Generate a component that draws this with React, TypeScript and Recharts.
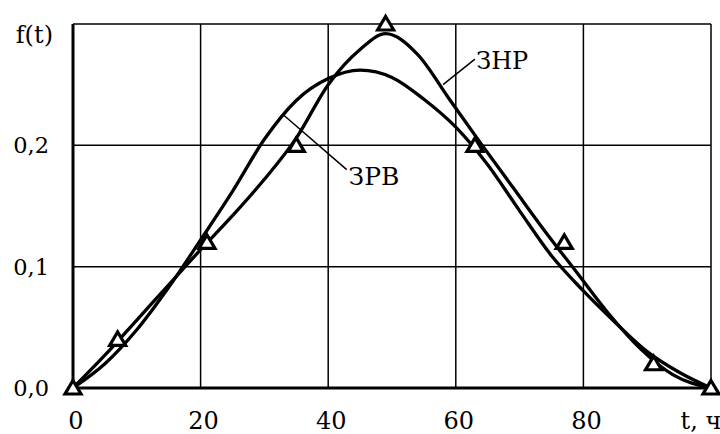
import React from 'react';
import {
  ComposedChart,
  Line,
  Scatter,
  XAxis,
  YAxis,
  CartesianGrid,
  ReferenceLine,
  ReferenceDot,
} from 'recharts';

// ЗНР curve
const znrT = [0, 5, 10, 15, 20, 25, 30, 35, 40, 45, 49, 54, 59, 64, 69, 74, 79, 84, 89, 94, 100];
const znrF = [0, 0.027, 0.056, 0.085, 0.114, 0.142, 0.172, 0.206, 0.25, 0.279, 0.292, 0.275, 0.238, 0.201, 0.165, 0.129, 0.095, 0.061, 0.032, 0.011, 0];

// ЗРВ curve
const zrvT = [0, 5, 10, 15, 20, 25, 30, 35, 40, 45, 50, 55, 60, 65, 70, 75, 80, 85, 90, 95, 100];
const zrvF = [0, 0.02, 0.048, 0.083, 0.122, 0.162, 0.205, 0.237, 0.255, 0.262, 0.256, 0.238, 0.215, 0.184, 0.146, 0.109, 0.08, 0.054, 0.03, 0.013, 0];

// observed (histogram) points
const obsT = [0, 7, 21, 35, 49, 63, 77, 91, 100];
const obsF = [0, 0.04, 0.12, 0.2, 0.3, 0.2, 0.12, 0.02, 0];

const xTicks = [0, 20, 40, 60, 80, 100];
const yTicks = [0, 0.1, 0.2, 0.3];
const xAxisName = 't, ч';
const yAxisName = 'f(t)';

const znrData = znrT.map((t, i) => ({ t, f: znrF[i] }));
const zrvData = zrvT.map((t, i) => ({ t, f: zrvF[i] }));
const obsData = obsT.map((t, i) => ({ t, f: obsF[i] }));

const FONT = '"DejaVu Serif", "Noto Serif", "Liberation Serif", serif';

const XTick = (props: any) => {
  const { x, y, payload } = props;
  const isLast = payload.value === 100;
  return (
    <text
      x={x + (isLast ? -10 : 3)}
      y={y}
      dy={41}
      textAnchor="middle"
      style={{ fontFamily: FONT }}
      fontSize={24}
      fill="#000"
    >
      {isLast ? xAxisName : String(payload.value)}
    </text>
  );
};

const YTick = (props: any) => {
  const { y, payload } = props;
  const isTop = Math.abs(payload.value - 0.3) < 1e-9;
  return (
    <text
      x={isTop ? 53 : 49}
      y={y}
      dy={isTop ? 19 : 8}
      textAnchor="end"
      style={{ fontFamily: FONT }}
      fontSize={isTop ? 24 : 22.5}
      fill="#000"
    >
      {isTop ? yAxisName : payload.value.toFixed(1).replace('.', ',')}
    </text>
  );
};

const Triangle = (props: any) => {
  const { cx, cy } = props;
  const w = 8;
  const d = `M${cx},${cy - 7.5} L${cx + w},${cy + 6} L${cx - w},${cy + 6} Z`;
  return <path d={d} fill="#fff" stroke="#000" strokeWidth={3.2} strokeLinejoin="miter" />;
};

export default function App() {
  return (
    <div style={{ position: 'absolute', left: 0, top: 0, width: 720, height: 434, background: '#fff', overflow: 'hidden', fontFamily: FONT }}>
      <ComposedChart width={720} height={434} margin={{ top: 24, right: 9, bottom: 0, left: 0 }} style={{ fontFamily: FONT }}>
        <CartesianGrid stroke="#000" strokeWidth={1.5} fill="none" />
        <XAxis
          type="number"
          dataKey="t"
          domain={[0, 100]}
          ticks={xTicks}
          height={46}
          axisLine={{ stroke: '#000', strokeWidth: 3 }}
          tickLine={false}
          tickSize={0}
          tickMargin={0}
          tick={<XTick />}
          interval={0}
          allowDuplicatedCategory={false}
        />
        <YAxis
          type="number"
          dataKey="f"
          domain={[0, 0.3]}
          ticks={yTicks}
          width={73}
          axisLine={{ stroke: '#000', strokeWidth: 3 }}
          tickLine={false}
          tickSize={0}
          tickMargin={0}
          tick={<YTick />}
          interval={0}
        />
        <Line
          data={zrvData}
          dataKey="f"
          type="monotone"
          stroke="#000"
          strokeWidth={3.3}
          dot={false}
          activeDot={false}
          isAnimationActive={false}
        />
        <Line
          data={znrData}
          dataKey="f"
          type="monotone"
          stroke="#000"
          strokeWidth={3.3}
          dot={false}
          activeDot={false}
          isAnimationActive={false}
        />
        <ReferenceLine
          segment={[{ x: 33, y: 0.225 }, { x: 42.9, y: 0.18 }]}
          stroke="#000"
          strokeWidth={1.5}
        />
        <ReferenceLine
          segment={[{ x: 58, y: 0.25 }, { x: 63, y: 0.271 }]}
          stroke="#000"
          strokeWidth={1.5}
        />
        <ReferenceDot
          x={43.2}
          y={0.1748}
          r={0}
          fill="none"
          stroke="none"
          label={{ value: 'ЗРВ', position: 'right', offset: 0, fontSize: 25, style: { fontFamily: FONT }, fill: '#000' }}
        />
        <ReferenceDot
          x={63.2}
          y={0.2698}
          r={0}
          fill="none"
          stroke="none"
          label={{ value: 'ЗНР', position: 'right', offset: 0, fontSize: 24, style: { fontFamily: FONT }, fill: '#000' }}
        />
        <Scatter data={obsData} dataKey="f" shape={<Triangle />} isAnimationActive={false} />
      </ComposedChart>
    </div>
  );
}
